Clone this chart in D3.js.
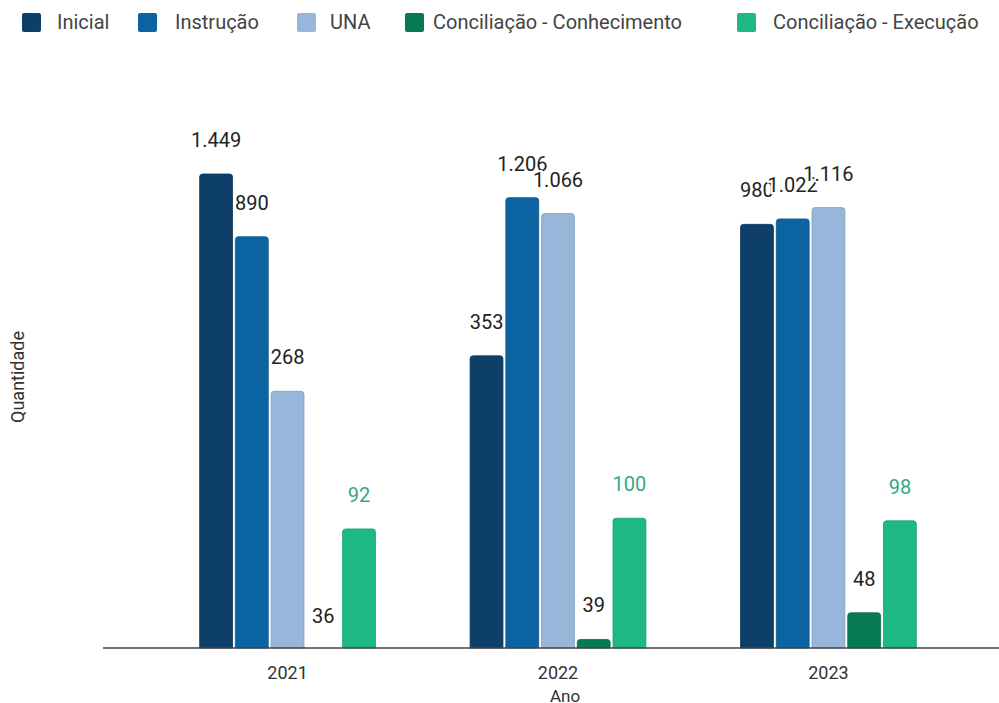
<!DOCTYPE html>
<html lang="pt-BR">
<head>
<meta charset="UTF-8">
<style>
  body { margin: 0; background: #fff; }
  svg text { font-family: Roboto, "Liberation Sans", Arial, sans-serif; }
</style>
</head>
<body>
<svg id="chart" width="999" height="703"></svg>
<script src="https://cdn.jsdelivr.net/npm/d3@7"></script>
<script>
// dados
var anos = ["2021", "2022", "2023"];
var series = ["Inicial", "Instrução", "UNA", "Conciliação - Conhecimento", "Conciliação - Execução"];
var inicial = [1449, 353, 980];
var instrucao = [890, 1206, 1022];
var una = [268, 1066, 1116];
var concConhecimento = [36, 39, 48];
var concExecucao = [92, 100, 98];
var valores = [inicial, instrucao, una, concConhecimento, concExecucao];

var cores = ["#0d3f68", "#0b64a1", "#98b6da", "#087a52", "#1db886"];
var coresRotulo = ["#222", "#222", "#222", "#222", "#35a982"];

var svg = d3.select("#chart");
var base = 648;

var x0 = d3.scaleBand().domain(anos).range([105, 1011]).paddingInner(0.35).paddingOuter(0.35);
var x1 = d3.scaleBand().domain(series).range([0, x0.bandwidth()]).paddingInner(0.08);
var y = d3.scaleLog().domain([36.5, 1449]).range([base, 174]);

var fmt = d3.formatLocale({decimal: ",", thousands: ".", grouping: [3], currency: ["R$", ""]}).format(",d");

// barras com topo arredondado
function barra(x, y0, w, h, r) {
    r = Math.min(r, h, w / 2);
    if (h <= 0) return "";
    return "M" + x + "," + (y0 + h) +
        "V" + (y0 + r) +
        "Q" + x + "," + y0 + " " + (x + r) + "," + y0 +
        "H" + (x + w - r) +
        "Q" + (x + w) + "," + y0 + " " + (x + w) + "," + (y0 + r) +
        "V" + (y0 + h) + "Z";
}

var dados = [];
series.forEach(function(s, si) {
    anos.forEach(function(a, ai) {
        dados.push({serie: s, si: si, ano: a, v: valores[si][ai]});
    });
});

svg.append("g").selectAll("path")
    .data(dados)
    .enter().append("path")
    .attr("d", function(d) {
        var yy = y(d.v);
        return barra(x0(d.ano) + x1(d.serie), yy, x1.bandwidth(), base - yy, 3);
    })
    .attr("fill", function(d) { return cores[d.si]; })
    .attr("stroke", function(d) { return d3.color(cores[d.si]).darker(0.4); })
    .attr("stroke-width", 0.8);

// eixo x
var eixo = svg.append("g")
    .attr("transform", "translate(0," + base + ")")
    .call(d3.axisBottom(x0).tickSize(0).tickPadding(18));
eixo.select(".domain").remove();
eixo.selectAll("text").attr("font-size", 18).attr("fill", "#333")
    .style("font-family", "Roboto, 'Liberation Sans', Arial, sans-serif");
svg.append("line")
    .attr("x1", 103).attr("x2", 999)
    .attr("y1", base).attr("y2", base)
    .attr("stroke", "#444").attr("stroke-width", 1.5);

// rótulos
svg.append("g").selectAll("text")
    .data(dados)
    .enter().append("text")
    .attr("x", function(d) { return x0(d.ano) + x1(d.serie) + x1.bandwidth() / 2; })
    .attr("y", function(d) { return y(d.v) - 27; })
    .attr("text-anchor", "middle")
    .attr("font-size", 20)
    .attr("fill", function(d) { return coresRotulo[d.si]; })
    .attr("stroke", "#fff").attr("stroke-width", 4).attr("paint-order", "stroke")
    .text(function(d) { return fmt(d.v); });

// títulos dos eixos
svg.append("text")
    .attr("transform", "translate(24,377) rotate(-90)")
    .attr("text-anchor", "middle")
    .attr("font-size", 18).attr("fill", "#333")
    .text("Quantidade");
svg.append("text")
    .attr("x", 565).attr("y", 702)
    .attr("text-anchor", "middle")
    .attr("font-size", 17).attr("fill", "#333")
    .text("Ano");

// legenda
var legX = [22, 138, 297, 405, 737];
var legTx = [35, 37, 33, 28, 36];
var leg = svg.append("g").selectAll("g")
    .data(series)
    .enter().append("g")
    .attr("transform", function(d, i) { return "translate(" + legX[i] + ",13)"; });
leg.append("rect")
    .attr("width", 19).attr("height", 19).attr("rx", 2)
    .attr("fill", function(d, i) { return cores[i]; });
leg.append("text")
    .attr("x", function(d, i) { return legTx[i]; }).attr("y", 16)
    .attr("font-size", 20).attr("fill", "#444")
    .text(function(d) { return d; });
</script>
</body>
</html>
